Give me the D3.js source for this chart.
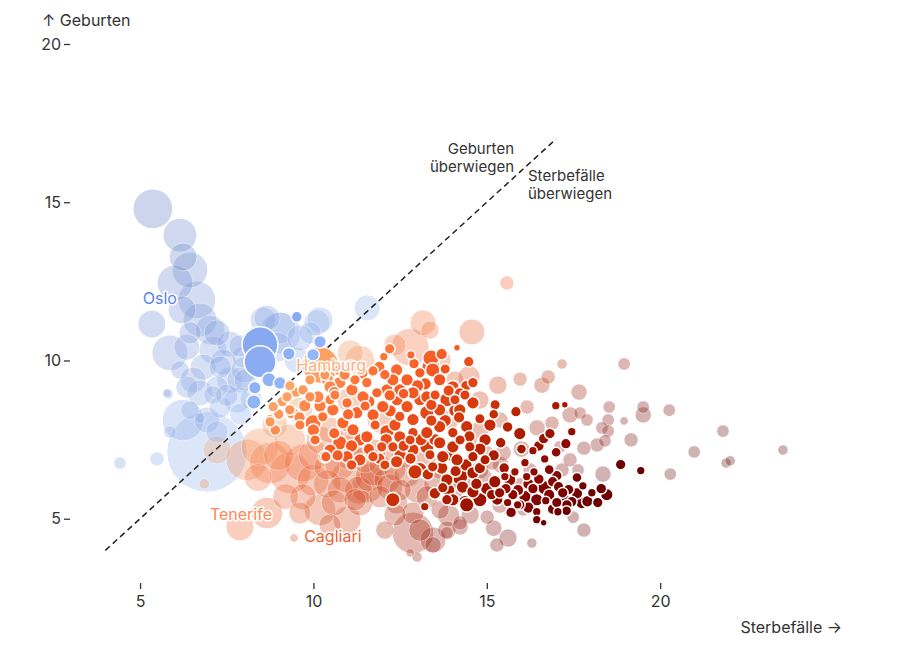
<!DOCTYPE html>
<html>
<head>
<meta charset="utf-8">
<script src="https://cdn.jsdelivr.net/npm/d3@7"></script>
<style>
  body { margin: 0; background: #fff; }
  #chart-container { font-family: Inter, "Noto Sans", sans-serif; }
</style>
</head>
<body>
<div id="chart-container"></div>
<script>
// Sterbefälle (x) vs. Geburten (y) je 1000 Einwohner, Größe = Einwohner (Mio.)
// [Sterbefälle, Geburten, Einwohner]
const highlightRegions = [
  [8.46, 10.50, 1.71], [8.46, 9.96, 1.33], [9.52, 11.38, 0.10], [10.19, 10.59, 0.15],
  [9.99, 10.18, 0.15], [9.29, 10.21, 0.15], [8.72, 9.39, 0.21], [8.31, 9.14, 0.15],
  [8.28, 8.69, 0.21], [9.03, 9.29, 0.15],
  [10.20, 9.85, 1.80],
  [12.20, 10.37, 0.095], [12.81, 10.18, 0.053], [13.39, 10.08, 0.29], [13.39, 9.80, 0.38],
  [14.14, 10.40, 0.024], [14.48, 9.96, 0.095], [12.03, 10.12, 0.053], [11.72, 9.67, 0.095],
  [12.06, 9.55, 0.095], [11.54, 9.30, 0.095], [11.20, 9.39, 0.095], [10.76, 9.30, 0.148],
  [10.48, 9.17, 0.148], [9.90, 9.39, 0.095], [9.32, 9.20, 0.095], [9.70, 9.07, 0.095],
  [10.13, 8.85, 0.148], [10.48, 8.76, 0.095], [9.38, 8.35, 0.148], [9.99, 8.03, 0.29],
  [10.76, 7.40, 0.213], [10.36, 6.96, 0.095], [10.97, 6.96, 0.148], [11.34, 6.86, 0.148],
  [11.72, 6.96, 0.095], [11.97, 7.27, 0.095], [12.12, 7.75, 0.213], [11.54, 7.59, 0.148],
  [11.14, 7.81, 0.148], [10.85, 8.03, 0.148], [11.25, 8.35, 0.148], [11.72, 8.28, 0.148],
  [12.00, 8.54, 0.148], [12.41, 8.76, 0.148], [12.70, 8.54, 0.148], [12.49, 8.23, 0.095],
  [12.87, 8.13, 0.148], [13.27, 8.35, 0.213], [13.64, 8.44, 0.148], [13.85, 8.76, 0.213],
  [14.22, 8.44, 0.148], [14.60, 8.66, 0.148], [13.27, 8.85, 0.148], [12.87, 8.98, 0.148],
  [12.49, 9.07, 0.148], [12.12, 9.07, 0.148], [11.83, 8.98, 0.095], [11.43, 8.85, 0.148],
  [10.97, 8.66, 0.095], [10.56, 8.44, 0.148], [10.27, 8.22, 0.095], [13.64, 9.39, 0.148],
  [14.02, 9.17, 0.148], [13.44, 9.70, 0.213], [13.07, 9.61, 0.095], [12.70, 9.39, 0.148],
  [12.29, 9.39, 0.148], [14.22, 8.98, 0.095], [14.60, 9.30, 0.095], [13.64, 7.91, 0.148],
  [14.02, 7.72, 0.095], [14.42, 7.91, 0.148], [13.27, 7.72, 0.148], [12.87, 7.72, 0.095],
  [12.49, 7.59, 0.148], [12.29, 7.27, 0.095], [12.87, 7.18, 0.148], [13.27, 7.27, 0.213],
  [13.64, 7.40, 0.148], [14.02, 7.27, 0.148], [14.51, 7.27, 0.095], [13.07, 6.55, 0.213],
  [13.44, 6.64, 0.095], [13.73, 6.96, 0.148], [14.14, 6.86, 0.148], [14.60, 6.96, 0.095],
  [14.22, 6.33, 0.29], [13.85, 6.23, 0.148], [14.60, 6.45, 0.148], [9.90, 8.85, 0.095],
  [9.32, 8.44, 0.095], [8.75, 8.13, 0.095], [9.24, 8.85, 0.095], [8.84, 8.54, 0.095],
  [8.75, 8.06, 0.095], [10.33, 6.96, 0.148], [12.29, 5.60, 0.213], [13.21, 5.38, 0.053],
  [12.93, 6.48, 0.213], [13.73, 5.98, 0.095], [14.02, 5.60, 0.148], [14.37, 5.51, 0.213],
  [14.60, 5.85, 0.148],
  [10.19, 8.56, 0.15], [10.62, 8.91, 0.09], [11.11, 9.07, 0.15], [11.49, 8.56, 0.09],
  [12.21, 8.41, 0.15], [13.07, 8.76, 0.15], [13.51, 8.91, 0.09], [14.08, 8.41, 0.15],
  [14.37, 8.91, 0.09], [14.80, 8.16, 0.09], [12.35, 7.96, 0.15], [12.79, 7.49, 0.09],
  [13.51, 7.49, 0.15], [14.23, 7.49, 0.09], [13.94, 7.02, 0.15], [13.36, 7.02, 0.09],
  [12.50, 7.02, 0.15], [12.06, 6.70, 0.09], [11.34, 7.49, 0.15], [11.78, 7.96, 0.09],
  [14.95, 7.49, 0.15], [15.09, 7.96, 0.15], [15.24, 8.60, 0.09], [14.95, 6.86, 0.09],
  [13.22, 9.26, 0.15], [13.80, 9.73, 0.09], [14.08, 8.76, 0.09], [10.77, 9.70, 0.15],
  [11.06, 9.86, 0.09], [10.33, 9.54, 0.09], [9.75, 8.57, 0.15], [9.61, 7.96, 0.09],
  [10.05, 7.49, 0.09], [10.48, 7.17, 0.15], [10.91, 7.96, 0.15],
  [10.40, 9.40, 0.15], [10.90, 9.55, 0.12], [11.40, 9.60, 0.15], [11.90, 9.80, 0.12],
  [12.40, 9.70, 0.15], [12.90, 9.90, 0.10], [13.70, 10.20, 0.12], [10.60, 9.00, 0.12],
  [11.00, 8.30, 0.12], [11.60, 8.70, 0.15], [12.20, 8.90, 0.12], [12.60, 8.95, 0.10],
  [13.00, 9.20, 0.15], [13.40, 8.60, 0.12], [13.90, 9.05, 0.12], [14.40, 9.20, 0.10],
  [10.00, 7.80, 0.15], [10.60, 7.70, 0.12], [11.10, 7.30, 0.15], [11.60, 7.20, 0.12],
  [12.10, 7.50, 0.15], [12.60, 7.30, 0.12], [13.10, 7.50, 0.15], [13.40, 8.10, 0.12],
  [13.80, 8.10, 0.15], [14.20, 8.20, 0.12], [14.50, 7.60, 0.12], [14.80, 7.20, 0.15],
  [10.70, 7.00, 0.12], [11.10, 6.70, 0.10], [11.90, 6.90, 0.12], [12.40, 6.80, 0.15],
  [12.80, 6.90, 0.12], [13.30, 6.40, 0.12], [13.70, 6.60, 0.15], [14.10, 6.50, 0.12],
  [14.40, 6.70, 0.15], [14.80, 6.60, 0.12], [9.50, 9.00, 0.10], [9.10, 8.70, 0.10],
  [9.60, 8.20, 0.12], [9.00, 8.30, 0.10], [8.90, 7.80, 0.10],
  [15.84, 8.38, 0.095], [16.99, 8.57, 0.053], [17.25, 8.60, 0.024], [15.95, 7.69, 0.148],
  [16.64, 7.53, 0.095], [16.82, 7.69, 0.095], [17.45, 7.75, 0.053], [17.28, 7.37, 0.095],
  [16.33, 7.15, 0.053], [16.67, 6.89, 0.053], [16.10, 6.77, 0.053], [16.36, 6.48, 0.053],
  [15.81, 6.48, 0.053], [18.86, 6.71, 0.095], [19.44, 6.52, 0.053], [15.66, 6.23, 0.148],
  [17.02, 6.36, 0.095], [16.90, 6.17, 0.095], [16.67, 5.98, 0.213], [16.33, 5.95, 0.095],
  [17.07, 6.01, 0.095], [17.36, 5.92, 0.095], [17.77, 6.04, 0.053], [18.03, 5.82, 0.053],
  [18.46, 5.76, 0.148], [18.20, 5.51, 0.095], [17.74, 5.51, 0.148], [17.45, 5.54, 0.095],
  [17.02, 5.51, 0.095], [16.70, 5.57, 0.053], [16.44, 5.60, 0.148], [16.44, 5.22, 0.053],
  [16.44, 4.97, 0.053], [16.64, 4.87, 0.024], [17.05, 5.22, 0.053], [15.89, 5.44, 0.053],
  [15.60, 5.51, 0.053], [15.75, 5.76, 0.095], [15.55, 5.95, 0.095], [15.23, 6.17, 0.148],
  [14.80, 5.60, 0.213], [14.42, 5.44, 0.213], [15.14, 5.76, 0.095], [13.85, 5.60, 0.095],
  [16.15, 6.33, 0.053], [15.52, 6.33, 0.053], [15.37, 5.82, 0.095], [15.95, 5.44, 0.095],
  [17.31, 5.44, 0.095], [17.19, 5.82, 0.095],
  [13.50, 5.80, 0.12], [13.90, 5.90, 0.15], [14.30, 6.00, 0.15], [14.70, 6.10, 0.12],
  [15.00, 5.95, 0.15], [15.30, 5.60, 0.12], [15.50, 6.60, 0.10], [15.20, 7.00, 0.12],
  [15.40, 7.40, 0.10], [15.70, 5.20, 0.10], [16.10, 5.70, 0.15], [16.20, 6.10, 0.12],
  [16.50, 6.25, 0.10], [16.80, 5.75, 0.12], [17.20, 5.65, 0.15], [17.60, 5.80, 0.12],
  [17.90, 5.55, 0.12], [18.30, 5.95, 0.10], [16.90, 5.30, 0.10], [17.30, 5.25, 0.08],
  [16.20, 5.35, 0.12], [15.90, 5.90, 0.12], [16.80, 6.55, 0.08], [17.60, 6.30, 0.08],
  [16.00, 7.20, 0.08], [16.50, 7.30, 0.10], [15.60, 7.90, 0.10], [15.20, 8.30, 0.08],
  [17.00, 7.10, 0.08]
];

const fadedRegions = [
  [5.37, 14.79, 2.14], [6.15, 13.96, 1.51], [6.24, 13.27, 1.0], [6.44, 12.86, 1.71],
  [6.01, 12.45, 1.71], [6.64, 11.91, 1.92], [5.34, 11.15, 1.0], [5.86, 10.24, 1.71],
  [6.21, 11.60, 1.0], [6.73, 11.28, 1.51], [7.02, 10.96, 1.16], [6.44, 10.87, 0.59],
  [6.35, 10.42, 0.85], [7.10, 10.33, 1.0], [6.82, 9.79, 0.85], [6.53, 9.38, 0.85],
  [7.31, 9.79, 0.59], [7.59, 9.38, 0.85], [7.22, 9.16, 0.59], [6.73, 8.97, 0.85],
  [6.35, 9.16, 0.59], [5.78, 8.97, 0.05], [7.80, 8.75, 0.85], [7.31, 8.53, 0.59],
  [8.55, 11.28, 0.85], [9.04, 10.87, 2.37], [8.95, 10.42, 1.16], [10.10, 11.19, 0.85],
  [9.90, 10.87, 0.59], [9.53, 10.01, 0.85], [8.55, 9.79, 0.59], [7.97, 10.11, 0.59],
  [8.26, 10.65, 0.59], [6.24, 8.12, 2.37], [6.93, 8.12, 0.85], [7.22, 7.74, 0.59],
  [6.73, 8.18, 0.09], [5.86, 7.74, 0.15], [4.42, 6.76, 0.15], [5.49, 6.89, 0.21],
  [5.81, 8.94, 0.09], [6.93, 7.11, 9.5], [11.55, 11.66, 0.85], [10.19, 11.28, 0.85],
  [7.59, 10.52, 0.85], [8.03, 9.38, 0.59], [7.10, 8.91, 0.38], [6.44, 8.43, 0.38],
  [6.15, 9.70, 0.38], [8.66, 11.34, 0.85], [9.04, 11.03, 1.33], [9.61, 10.71, 0.85],
  [7.22, 10.87, 0.85], [7.88, 10.46, 0.59], [7.40, 9.95, 0.85], [7.88, 9.38, 0.85],
  [7.90, 8.30, 0.59], [8.20, 8.80, 0.59], [7.50, 8.90, 0.59], [8.00, 9.70, 0.85],
  [8.30, 9.90, 0.59],
  [7.22, 7.17, 1.0], [6.85, 6.10, 0.09], [8.08, 6.86, 2.37], [8.46, 7.27, 1.92],
  [8.75, 6.76, 2.37], [9.32, 6.45, 2.37], [9.70, 6.76, 1.92], [9.99, 6.22, 1.33],
  [10.39, 6.64, 0.85], [9.70, 5.69, 0.85], [8.66, 5.18, 1.33], [7.88, 4.74, 1.0],
  [9.61, 5.18, 0.59], [10.19, 5.28, 1.33], [10.97, 4.96, 1.0], [11.34, 5.50, 0.85],
  [11.55, 6.00, 1.33], [10.97, 6.32, 1.33], [11.72, 6.45, 0.85], [12.12, 6.22, 0.85],
  [11.92, 5.69, 0.59], [12.50, 5.91, 0.59], [12.87, 4.55, 2.37], [13.45, 4.33, 0.85],
  [13.85, 4.64, 0.38], [12.87, 5.18, 0.59], [13.28, 5.69, 0.59], [14.23, 4.74, 0.29],
  [12.79, 3.92, 0.05], [12.99, 3.79, 0.09], [9.44, 4.39, 0.05],
  [9.32, 7.49, 1.33], [10.19, 7.49, 1.0], [8.89, 7.96, 0.85], [10.77, 6.70, 1.16],
  [11.20, 7.33, 0.85], [11.49, 6.86, 0.85], [11.92, 6.70, 0.59], [12.35, 6.54, 0.59],
  [11.78, 7.17, 0.59], [10.77, 5.91, 0.85], [11.20, 5.60, 0.59], [10.48, 4.80, 0.59],
  [12.35, 5.12, 0.59], [12.06, 4.64, 0.38], [13.22, 6.86, 0.59], [13.65, 6.54, 0.38],
  [12.64, 7.02, 0.85], [10.48, 7.80, 0.85], [11.92, 8.12, 0.85], [9.61, 8.43, 0.85],
  [11.06, 8.75, 0.85],
  [11.00, 7.00, 1.0], [11.60, 6.30, 1.0], [12.20, 6.00, 0.85], [12.70, 6.40, 0.85],
  [13.00, 5.90, 0.85], [11.30, 5.90, 1.0], [10.40, 6.10, 1.0], [12.40, 5.50, 0.6],
  [13.50, 6.10, 0.6], [13.90, 5.10, 0.6], [11.00, 7.60, 0.85], [12.00, 7.00, 0.85],
  [10.00, 7.00, 1.2], [9.00, 7.00, 1.2], [8.40, 6.30, 1.0], [9.20, 5.70, 0.85],
  [10.60, 5.50, 0.85], [14.30, 6.10, 0.38], [14.90, 6.30, 0.38], [15.40, 6.70, 0.3],
  [16.00, 7.20, 0.3], [15.20, 4.70, 0.3],
  [15.58, 12.45, 0.21], [13.16, 11.19, 0.85], [14.57, 10.90, 0.85], [12.79, 10.42, 1.92],
  [11.06, 10.24, 0.85], [11.34, 10.01, 1.16], [17.17, 9.89, 0.09], [18.96, 9.89, 0.15],
  [15.96, 9.41, 0.21], [16.77, 9.48, 0.21], [16.59, 9.22, 0.29], [17.66, 9.00, 0.29],
  [14.49, 9.48, 0.59], [15.32, 9.22, 0.38], [16.16, 8.53, 0.21], [16.88, 8.02, 0.21],
  [17.69, 8.34, 0.15], [18.53, 8.53, 0.15], [19.51, 8.53, 0.15], [19.51, 8.28, 0.29],
  [20.26, 8.43, 0.15], [18.96, 8.09, 0.05], [18.50, 8.12, 0.15], [18.32, 7.87, 0.15],
  [18.50, 7.77, 0.15], [18.18, 7.33, 0.21], [18.41, 7.46, 0.15], [19.16, 7.49, 0.21],
  [17.80, 7.23, 0.21], [17.89, 8.12, 0.15], [17.40, 8.28, 0.29], [21.81, 7.77, 0.15],
  [20.98, 7.11, 0.15], [21.90, 6.76, 0.09], [22.02, 6.83, 0.09], [23.54, 7.17, 0.09],
  [20.29, 6.41, 0.15], [18.35, 6.41, 0.29], [17.49, 5.05, 0.15], [17.80, 4.64, 0.21],
  [15.61, 4.39, 0.38], [15.29, 4.17, 0.21], [16.30, 4.23, 0.09], [16.05, 5.28, 0.15],
  [15.01, 5.05, 0.21], [14.23, 4.87, 0.21], [13.85, 4.55, 0.15], [13.45, 4.17, 0.29],
  [13.07, 4.64, 0.59], [15.15, 6.76, 0.21], [15.47, 7.08, 0.29], [15.01, 7.08, 0.21],
  [14.52, 7.49, 0.21], [16.45, 7.87, 0.29], [17.11, 7.27, 0.15], [16.25, 6.54, 0.21],
  [17.17, 6.54, 0.21], [17.40, 6.86, 0.21], [17.63, 6.54, 0.15],
  [13.94, 8.12, 0.38], [14.80, 7.80, 0.38], [15.38, 8.12, 0.29], [14.80, 6.54, 0.38],
  [15.38, 5.43, 0.29], [14.52, 5.12, 0.38], [13.65, 5.28, 0.38], [14.08, 5.91, 0.38],
  [15.96, 6.07, 0.21], [14.80, 8.75, 0.38], [14.08, 9.38, 0.38], [13.65, 10.01, 0.59],
  [12.35, 10.49, 0.59], [13.36, 10.96, 0.38]
];

const xTicks = [5, 10, 15, 20];
const yTicks = [5, 10, 15, 20];
const parityLine = [4, 17];

const labelNames = ["Oslo", "Hamburg", "Tenerife", "Cagliari"];
const labelDeaths = [5.57, 10.51, 7.91, 10.56];
const labelBirths = [11.91, 9.79, 5.09, 4.39];

const labelColors = { Oslo: "#5a7ff0", Hamburg: "#fdae7a", Tenerife: "#fb8a58", Cagliari: "#ec6236" };

const width = 900, height = 650;

const svg = d3.select("#chart-container")
  .append("svg")
  .attr("width", width)
  .attr("height", height);

const x = d3.scaleLinear().domain([3, 25.33]).range([70.7, 845]);
const y = d3.scaleLinear().domain([3, 20]).range([582, 44]);
const r = d3.scaleSqrt().domain([0, 12]).range([1.5, 45]);

// Saldo Geburten - Sterbefälle -> Farbe
const color = d3.scaleLinear()
  .domain([-16, -12, -10, -8, -6, -4, -2, -0.01, 0, 10])
  .range(["#5a0000", "#6e0000", "#8c0800", "#b01e00", "#d63a0c", "#f25520", "#ff7438", "#fcaa6c", "#94b6fa", "#5676c8"])
  .clamp(true);

const toPoint = d => ({ deaths: d[0], births: d[1], pop: d[2], balance: d[1] - d[0] });
const faded = fadedRegions.map(toPoint).sort((a, b) => b.pop - a.pop);
const highlighted = highlightRegions.map(toPoint).sort((a, b) => b.pop - a.pop);

// faded regions
svg.append("g")
  .selectAll("circle")
  .data(faded)
  .join("circle")
  .attr("cx", d => x(d.deaths))
  .attr("cy", d => y(d.births))
  .attr("r", d => r(d.pop))
  .attr("fill", d => d3.interpolateRgb(color(d.balance), "#a0a0a0")(0.12))
  .attr("stroke", "#fff")
  .attr("stroke-width", 1)
  .attr("opacity", 0.32);

// parity line
svg.append("line")
  .attr("x1", x(parityLine[0])).attr("y1", y(parityLine[0]))
  .attr("x2", x(parityLine[1])).attr("y2", y(parityLine[1]))
  .attr("stroke", "#222")
  .attr("stroke-width", 1.5)
  .attr("stroke-dasharray", "6,4");

// highlighted regions
svg.append("g")
  .selectAll("circle")
  .data(highlighted)
  .join("circle")
  .attr("cx", d => x(d.deaths))
  .attr("cy", d => y(d.births))
  .attr("r", d => r(d.pop))
  .attr("fill", d => color(d.balance))
  .attr("stroke", "#fff")
  .attr("stroke-width", 1.5);

// axes
const yAxis = svg.append("g")
  .attr("transform", "translate(70,0)")
  .call(d3.axisLeft(y).tickValues(yTicks).tickSize(6).tickPadding(3));
yAxis.select(".domain").remove();

const xAxis = svg.append("g")
  .attr("transform", "translate(0,583)")
  .call(d3.axisBottom(x).tickValues(xTicks).tickSize(6).tickPadding(7));
xAxis.select(".domain").remove();

svg.selectAll(".tick text")
  .attr("font-family", "Inter, sans-serif")
  .attr("font-size", 16)
  .attr("fill", "#333");
svg.selectAll(".tick line").attr("stroke", "#333").attr("stroke-width", 1.3);

// axis titles
svg.append("text")
  .attr("x", 42).attr("y", 26)
  .attr("font-size", 16).attr("fill", "#333")
  .text("↑ Geburten");

svg.append("text")
  .attr("x", 842).attr("y", 633)
  .attr("text-anchor", "end")
  .attr("font-size", 16).attr("fill", "#333")
  .text("Sterbefälle →");

// annotations, one text per line
const annLeft = ["Geburten", "überwiegen"];
const annRight = ["Sterbefälle", "überwiegen"];

svg.append("g")
  .selectAll("text")
  .data(annLeft)
  .join("text")
  .attr("x", 514)
  .attr("y", (d, i) => 154 + i * 18)
  .attr("text-anchor", "end")
  .attr("font-size", 15).attr("fill", "#333")
  .text(d => d);

svg.append("g")
  .selectAll("text")
  .data(annRight)
  .join("text")
  .attr("x", 528)
  .attr("y", (d, i) => 181 + i * 18)
  .attr("font-size", 15).attr("fill", "#333")
  .text(d => d);

// region labels
svg.append("g")
  .selectAll("text")
  .data(labelNames)
  .join("text")
  .attr("x", (d, i) => x(labelDeaths[i]))
  .attr("y", (d, i) => y(labelBirths[i]))
  .attr("text-anchor", "middle")
  .attr("dominant-baseline", "middle")
  .attr("font-size", 16)
  .attr("fill", d => labelColors[d])
  .attr("stroke", "#fff")
  .attr("stroke-width", 3)
  .attr("stroke-linejoin", "round")
  .attr("paint-order", "stroke")
  .text(d => d);
</script>
</body>
</html>
